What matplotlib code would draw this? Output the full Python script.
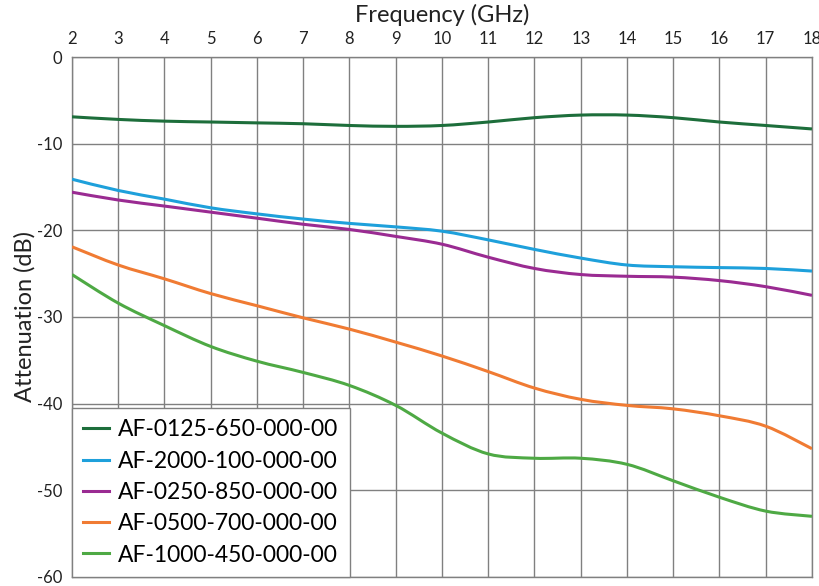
import matplotlib
matplotlib.use("Agg")
import matplotlib.pyplot as plt
from matplotlib.path import Path
from matplotlib.patches import PathPatch
from matplotlib.lines import Line2D

plt.rcParams['font.family'] = ['Lato', 'DejaVu Sans']
plt.rcParams['axes.unicode_minus'] = False

freq = [2, 3, 4, 5, 6, 7, 8, 9, 10, 11, 12, 13, 14, 15, 16, 17, 18]

af_0125 = [-6.9, -7.2, -7.4, -7.5, -7.6, -7.7, -7.9, -8.0, -7.9, -7.5, -7.0, -6.7, -6.7, -7.0, -7.5, -7.9, -8.3]
af_2000 = [-14.1, -15.4, -16.4, -17.4, -18.1, -18.7, -19.2, -19.6, -20.1, -21.1, -22.2, -23.2, -24.0, -24.2, -24.3, -24.4, -24.7]
af_0250 = [-15.6, -16.5, -17.2, -17.9, -18.6, -19.3, -19.9, -20.7, -21.6, -23.1, -24.4, -25.1, -25.3, -25.4, -25.8, -26.5, -27.5]
af_0500 = [-21.9, -24.0, -25.6, -27.3, -28.7, -30.1, -31.4, -32.9, -34.5, -36.3, -38.2, -39.5, -40.2, -40.6, -41.4, -42.6, -45.2]
af_1000 = [-25.1, -28.4, -31.0, -33.4, -35.1, -36.4, -37.9, -40.2, -43.4, -45.8, -46.3, -46.3, -47.0, -48.9, -50.8, -52.4, -53.0]

series = [
    ("AF-0125-650-000-00", af_0125, "#1d6e3b"),
    ("AF-2000-100-000-00", af_2000, "#1ea0db"),
    ("AF-0250-850-000-00", af_0250, "#9a2b92"),
    ("AF-0500-700-000-00", af_0500, "#f07b33"),
    ("AF-1000-450-000-00", af_1000, "#4ea944"),
]


def smooth_path(xs, ys):
    # catmull-rom -> bezier, like excel's smoothed lines
    pts = list(zip(xs, ys))
    verts = [pts[0]]
    codes = [Path.MOVETO]
    n = len(pts)
    for i in range(n - 1):
        p0 = pts[i - 1] if i > 0 else pts[i]
        p1 = pts[i]
        p2 = pts[i + 1]
        p3 = pts[i + 2] if i + 2 < n else pts[i + 1]
        c1 = (p1[0] + (p2[0] - p0[0]) / 6, p1[1] + (p2[1] - p0[1]) / 6)
        c2 = (p2[0] - (p3[0] - p1[0]) / 6, p2[1] - (p3[1] - p1[1]) / 6)
        verts += [c1, c2, p2]
        codes += [Path.CURVE4] * 3
    return Path(verts, codes)


fig = plt.figure(figsize=(8.2, 5.86), dpi=100)
ax = fig.add_axes([0.0878, 0.0154, 0.9024, 0.8873])

handles = []
for name, vals, col in series:
    ax.add_patch(PathPatch(smooth_path(freq, vals), fill=False, edgecolor=col,
                           lw=2.2, capstyle="butt", zorder=3))
    handles.append(Line2D([], [], color=col, lw=2.2, label=name))

ax.set_xlim(2, 18)
ax.set_ylim(-60, 0)
ax.set_xticks(range(2, 19))
ax.set_yticks(range(-60, 1, 10))
ax.xaxis.tick_top()
ax.xaxis.set_label_position("top")
ax.tick_params(length=0, labelsize=12, colors="#222222", pad=7)
ax.set_xlabel("Frequency (GHz)", fontsize=17, color="#222222", labelpad=7)
ax.set_ylabel("Attenuation (dB)", fontsize=17, color="#222222", labelpad=1)
ax.grid(True, color="#808080", lw=1)
for sp in ax.spines.values():
    sp.set_color("#808080")
    sp.set_linewidth(1)

leg = ax.legend(handles=handles, loc="lower left", fontsize=16.5, frameon=True, fancybox=False,
                handlelength=1.1, handletextpad=0.4, borderpad=0.5,
                labelspacing=0.45, borderaxespad=0)
leg.get_frame().set_edgecolor("#808080")
leg.get_frame().set_linewidth(1)
leg.get_frame().set_alpha(1)
leg.set_zorder(5)

fig.savefig("out.png", dpi=100)
